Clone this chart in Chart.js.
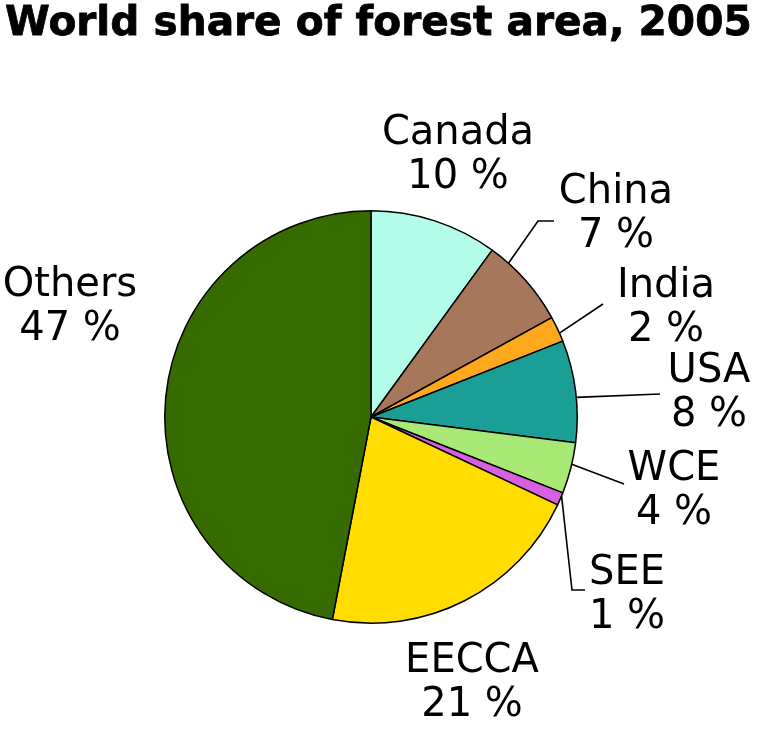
<!DOCTYPE html>
<html>
<head>
<meta charset="utf-8">
<script src="https://cdn.jsdelivr.net/npm/chart.js@4.4.0/dist/chart.umd.min.js"></script>
<style>
  html, body { margin: 0; padding: 0; background: #ffffff; }
  canvas { display: block; }
</style>
</head>
<body>
<canvas id="c" width="768" height="729"></canvas>
<script>
// ---- data ----
const titleText = "World share of forest area, 2005";
const categories = ["Canada", "China", "India", "USA", "WCE", "SEE", "EECCA", "Others"];
const shares = [10, 7, 2, 8, 4, 1, 21, 47];
const colors = ["#B2FCE9", "#A6775A", "#FFA81E", "#1A9E96", "#A8E874", "#D860E0", "#FFDD00", "#366B00"];

// ---- label layout (text anchor: centre x, first baseline y) ----
const labelPos = [
  [458, 144], [616, 203], [666, 297], [709, 382],
  [674, 480], [627, 584], [472, 672], [70, 296]
];
// leader lines: fraction within slice where line touches the rim, then elbow points
const leaders = [
  null,
  {f: 0.23, pts: [[538, 221], [554, 221]]},
  {f: 0.67, pts: [[603, 304]]},
  {f: 0.56, pts: [[660, 394]]},
  {f: 0.42, pts: [[624, 484]]},
  {f: 0.25, pts: [[572, 590], [585, 590]]},
  null,
  null
];

const FONT = "'DejaVu Sans', Verdana, sans-serif";
const LABEL_SIZE = 40;
const LINE_GAP = 44;

const overlay = {
  id: 'overlay',
  afterDraw(chart) {
    const ctx = chart.ctx;
    const meta = chart.getDatasetMeta(0);
    ctx.save();
    // title
    let ts = 40;
    ctx.font = "bold " + ts + "px " + FONT;
    const w = ctx.measureText(titleText).width;
    ts = ts * 747 / w;
    ctx.font = "bold " + ts + "px " + FONT;
    ctx.fillStyle = "#000";
    ctx.textAlign = "left";
    ctx.textBaseline = "alphabetic";
    ctx.fillText(titleText, 5, 35);
    ctx.lineWidth = 0.8;
    ctx.strokeStyle = "#000";
    ctx.strokeText(titleText, 5, 35);

    // leader lines
    ctx.strokeStyle = "#000";
    ctx.lineWidth = 1.6;
    meta.data.forEach((arc, i) => {
      const L = leaders[i];
      if (!L) return;
      const p = arc.getProps(['x', 'y', 'startAngle', 'endAngle', 'outerRadius'], true);
      const a = p.startAngle + (p.endAngle - p.startAngle) * L.f;
      const sx = p.x + Math.cos(a) * p.outerRadius;
      const sy = p.y + Math.sin(a) * p.outerRadius;
      ctx.beginPath();
      ctx.moveTo(sx, sy);
      L.pts.forEach(q => ctx.lineTo(q[0], q[1]));
      ctx.stroke();
    });

    // labels
    ctx.font = LABEL_SIZE + "px " + FONT;
    ctx.textAlign = "center";
    ctx.fillStyle = "#000";
    categories.forEach((c, i) => {
      const [x, y] = labelPos[i];
      ctx.fillText(c, x, y);
      ctx.fillText(shares[i] + " %", x, y + LINE_GAP);
    });
    ctx.restore();
  }
};

new Chart(document.getElementById('c'), {
  type: 'pie',
  data: {
    labels: categories,
    datasets: [{
      data: shares,
      backgroundColor: colors,
      borderColor: "#000000",
      borderWidth: 1.5
    }]
  },
  options: {
    responsive: false,
    animation: false,
    events: [],
    layout: { padding: { left: 164, right: 190, top: 210, bottom: 105 } },
    plugins: {
      legend: { display: false },
      tooltip: { enabled: false },
      title: { display: false }
    }
  },
  plugins: [overlay]
});
</script>
</body>
</html>
